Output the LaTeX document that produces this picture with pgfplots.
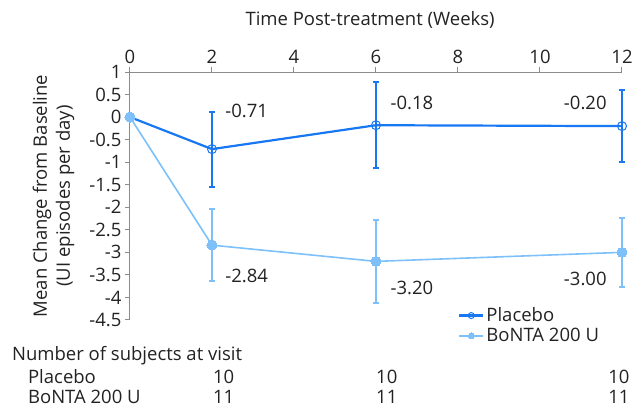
\documentclass[border=0pt]{standalone}
\usepackage{pgfplots}
\pgfplotsset{compat=1.18}
\usepackage{fontspec}
\setmainfont{Open Sans}
\definecolor{plac}{RGB}{24,119,242}
\definecolor{bon}{RGB}{125,192,250}
\definecolor{axgray}{RGB}{140,140,140}
\definecolor{txt}{RGB}{34,34,34}
\newcommand{\fs}{\fontsize{18.5}{23}\selectfont}
\begin{document}
\begin{tikzpicture}
\path[use as bounding box] (-130pt,-89pt) rectangle (503pt,320pt);
\begin{axis}[
  at={(0,0)}, anchor=south west, scale only axis, width=492pt, height=248pt,
  xmin=0, xmax=12, ymin=-4.5, ymax=1,
  axis x line=top, axis y line=left,
  axis line style={axgray, line width=1pt, -},
  xtick={0,2,4,6,8,10,12},
  ytick={-4.5,-4,-3.5,-3,-2.5,-2,-1.5,-1,-0.5,0,0.5,1},
  tick align=outside, major tick length=5pt,
  tick style={axgray, line width=1pt},
  ticklabel style={font=\fs, text=txt},
  /pgf/number format/assume math mode=true,
  yticklabel style={/pgf/number format/fixed},
  clip=false,
  xlabel={Time Post-treatment (Weeks)},
  xlabel style={at={(axis description cs:0.488,1)}, anchor=center, yshift=52pt, font=\fs, text=txt},
  ylabel={Mean Change from Baseline\\(UI episodes per day)},
  ylabel style={at={(axis description cs:-0.1555,0.5)}, anchor=center, align=center, font=\fs, text=txt},
  legend style={at={(axis cs:8.0,-4.18)}, anchor=north west, draw=none, fill=none, font=\fs, text=txt, row sep=1pt, inner sep=0pt,
    /tikz/every even column/.append style={column sep=1pt}},
  legend cell align=left,
  legend image code/.code={\draw[mark repeat=2,mark phase=2,#1,mark size=3pt] plot coordinates {(0pt,0pt) (12pt,0pt) (24pt,0pt)};},
]
\addplot[plac, line width=2.2pt, mark=o, mark size=4.5pt, mark options={line width=1pt, solid},
  error bars/.cd, y dir=both, y explicit,
  error bar style={line width=2pt, plac},
  error mark options={rotate=90, mark size=3pt, line width=2pt, plac}]
  coordinates {(0,0) +- (0,0) (2,-0.71) +- (0,0.83) (6,-0.18) +- (0,0.95) (12,-0.20) +- (0,0.79)};
\addlegendentry{Placebo}
\addplot[bon, line width=1.6pt, mark=*, mark size=5pt, mark options={line width=0pt, fill=bon, solid},
  error bars/.cd, y dir=both, y explicit,
  error bar style={line width=2pt, bon},
  error mark options={rotate=90, mark size=3pt, line width=2pt, bon}]
  coordinates {(0,0) +- (0,0) (2,-2.84) +- (0,0.80) (6,-3.20) +- (0,0.92) (12,-3.00) +- (0,0.77)};
\addlegendentry{BoNTA 200 U}

\node[anchor=west, font=\fs, text=txt] at (axis cs:2.24,0.13) {-0.71};
\node[anchor=west, font=\fs, text=txt] at (axis cs:6.27,0.31) {-0.18};
\node[anchor=east, font=\fs, text=txt] at (axis cs:11.71,0.31) {-0.20};
\node[anchor=west, font=\fs, text=txt] at (axis cs:2.24,-3.53) {-2.84};
\node[anchor=west, font=\fs, text=txt] at (axis cs:6.27,-3.78) {-3.20};
\node[anchor=east, font=\fs, text=txt] at (axis cs:11.71,-3.60) {-3.00};

\node[anchor=west, font=\fs, text=txt, inner sep=0pt] at (axis cs:-2.88,-5.29) {Number of subjects at visit};
\node[anchor=west, font=\fs, text=txt, inner sep=0pt] at (axis cs:-2.49,-5.76) {Placebo};
\node[anchor=west, font=\fs, text=txt, inner sep=0pt] at (axis cs:-2.49,-6.21) {BoNTA 200 U};
\node[anchor=west, font=\fs, text=txt, inner sep=0pt] at (axis cs:2.02,-5.76) {10};
\node[anchor=west, font=\fs, text=txt, inner sep=0pt] at (axis cs:6.0,-5.76) {10};
\node[anchor=west, font=\fs, text=txt, inner sep=0pt] at (axis cs:11.66,-5.76) {10};
\node[anchor=west, font=\fs, text=txt, inner sep=0pt] at (axis cs:2.02,-6.21) {11};
\node[anchor=west, font=\fs, text=txt, inner sep=0pt] at (axis cs:6.0,-6.21) {11};
\node[anchor=west, font=\fs, text=txt, inner sep=0pt] at (axis cs:11.66,-6.21) {11};
\end{axis}
\end{tikzpicture}
\end{document}
